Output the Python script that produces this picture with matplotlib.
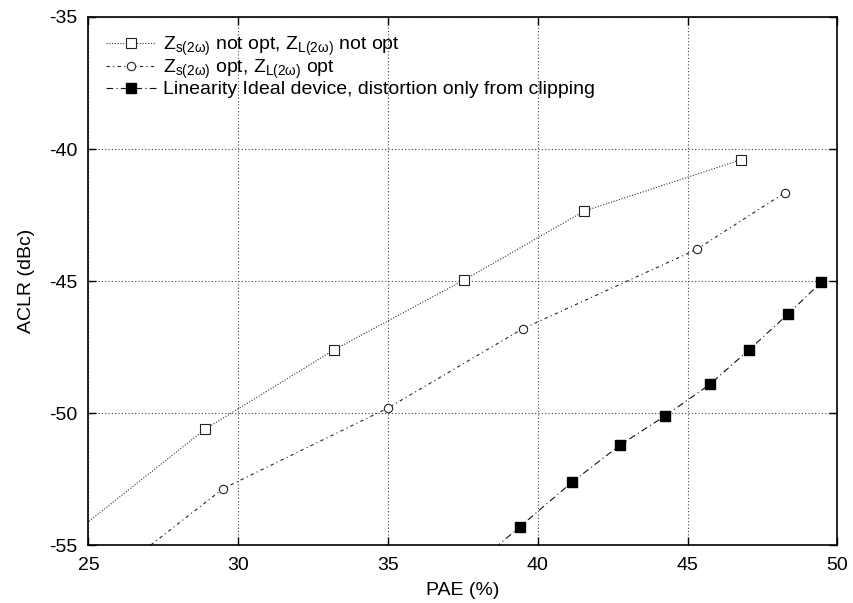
import matplotlib
matplotlib.use('Agg')
import matplotlib.pyplot as plt

plt.rcParams['font.family'] = ['Liberation Sans', 'DejaVu Sans']
plt.rcParams['mathtext.fontset'] = 'custom'
plt.rcParams['mathtext.rm'] = 'Liberation Sans'
plt.rcParams['mathtext.it'] = 'Liberation Sans'
plt.rcParams['mathtext.default'] = 'rm'
plt.rcParams['axes.unicode_minus'] = False

# first point of each series lies outside the axes (lines run off the frame)
pae_notopt = [24.0, 28.9, 33.2, 37.55, 41.55, 46.8]
aclr_notopt = [-55.0, -50.6, -47.6, -44.95, -42.35, -40.4]

pae_opt = [26.5, 29.5, 35.0, 39.5, 45.3, 48.25]
aclr_opt = [-55.5, -52.85, -49.8, -46.8, -43.8, -41.65]

pae_ideal = [38.2, 39.4, 41.15, 42.75, 44.25, 45.75, 47.05, 48.35, 49.45]
aclr_ideal = [-55.45, -54.3, -52.6, -51.2, -50.1, -48.9, -47.6, -46.25, -45.05]

labels = [r'$Z_{s(2\omega)}$ not opt, $Z_{L(2\omega)}$ not opt',
          r'$Z_{s(2\omega)}$ opt, $Z_{L(2\omega)}$ opt',
          'Linearity Ideal device, distortion only from clipping']

fig = plt.figure(figsize=(8.54, 6.03), dpi=100)
ax = fig.add_axes([0.1035, 0.0955, 0.877, 0.8765])

ax.plot(pae_notopt, aclr_notopt, color='#333333', lw=0.8, ls=(0, (1, 1.5)),
        marker='s', ms=6.5, mfc='white', mec='#222222', mew=0.8,
        markevery=range(1, len(pae_notopt)), label=labels[0])
ax.plot(pae_opt, aclr_opt, color='#222222', lw=0.8, ls=(0, (3, 3, 1, 3)),
        marker='o', ms=6, mfc='white', mec='#222222', mew=0.8,
        markevery=range(1, len(pae_opt)), label=labels[1])
ax.plot(pae_ideal, aclr_ideal, color='#111111', lw=0.8, ls=(0, (6, 3, 1, 3)),
        marker='s', ms=6.5, mfc='black', mec='black',
        markevery=range(1, len(pae_ideal)), label=labels[2])

ax.set_xlim(25, 50)
ax.set_ylim(-55, -35)
ax.set_xticks([25, 30, 35, 40, 45, 50])
ax.set_yticks([-55, -50, -45, -40, -35])
ax.grid(True, color='#444444', ls=(0, (1, 2)), lw=0.8)
ax.tick_params(direction='in', top=True, right=True, labelsize=14, length=6, width=1, pad=8)
for s in ax.spines.values():
    s.set_linewidth(1.2)

ax.set_xlabel('PAE (%)', fontsize=14, labelpad=6)
ax.set_ylabel('ACLR (dBc)', fontsize=14, labelpad=10)

leg = ax.legend(loc='upper left', frameon=False, fontsize=14, handlelength=2.6,
                handletextpad=0.35, labelspacing=0.0, borderaxespad=0.5,
                borderpad=0.4, bbox_to_anchor=(0.0, 1.0))

fig.savefig('out.png', dpi=100)
